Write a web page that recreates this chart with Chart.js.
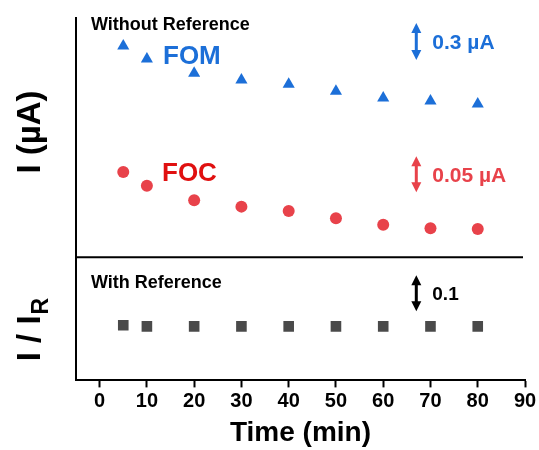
<!DOCTYPE html>
<html>
<head>
<meta charset="utf-8">
<script src="https://cdn.jsdelivr.net/npm/chart.js@4"></script>
<style>
  body { margin: 0; background: #fff; }
</style>
</head>
<body>
<canvas id="chart" width="539" height="450"></canvas>
<script>
// time points (min)
const time = [5, 10, 20, 30, 40, 50, 60, 70, 80];
// current without reference (uA), estimated from the figure
const fom = [2.47, 2.365, 2.25, 2.195, 2.16, 2.105, 2.05, 2.025, 2.00];
const foc = [0.479, 0.460, 0.440, 0.431, 0.425, 0.415, 0.406, 0.401, 0.400];
// ratio with reference
const ref = [1.003, 1.000, 1.000, 1.000, 1.000, 1.000, 1.000, 1.000, 1.000];
const xTicks = [0, 10, 20, 30, 40, 50, 60, 70, 80, 90];

const BLUE = '#1c6fd8';
const RED = '#e8424a';
const GRAY = '#4a4a4a';
const FONT = '"Liberation Sans", Arial, sans-serif';

function pts(ys) {
  return time.map((t, i) => ({ x: t, y: ys[i] }));
}

// vertical double arrow for the scale bars
function dblArrow(ctx, x, y1, y2, color) {
  ctx.save();
  ctx.strokeStyle = color;
  ctx.fillStyle = color;
  ctx.lineWidth = 3;
  ctx.beginPath();
  ctx.moveTo(x, y1 + 6);
  ctx.lineTo(x, y2 - 6);
  ctx.stroke();
  ctx.beginPath();
  ctx.moveTo(x, y1); ctx.lineTo(x - 5, y1 + 10); ctx.lineTo(x + 5, y1 + 10);
  ctx.closePath(); ctx.fill();
  ctx.beginPath();
  ctx.moveTo(x, y2); ctx.lineTo(x - 5, y2 - 10); ctx.lineTo(x + 5, y2 - 10);
  ctx.closePath(); ctx.fill();
  ctx.restore();
}

const decor = {
  id: 'decor',
  beforeDatasetsDraw(chart) {
    const ctx = chart.ctx;
    const a = chart.chartArea;
    ctx.save();
    ctx.strokeStyle = '#000';
    ctx.lineWidth = 2;
    // left axis line
    ctx.beginPath();
    ctx.moveTo(a.left, a.top);
    ctx.lineTo(a.left, a.bottom);
    ctx.stroke();
    // divider between the two panels
    const yDiv = a.top + (a.bottom - a.top) * 0.661;
    ctx.beginPath();
    ctx.moveTo(a.left, yDiv);
    ctx.lineTo(a.right - 2, yDiv);
    ctx.stroke();
    ctx.restore();
  },
  afterDraw(chart) {
    const ctx = chart.ctx;
    const s = chart.scales;
    ctx.save();
    ctx.textBaseline = 'alphabetic';
    ctx.textAlign = 'left';

    ctx.fillStyle = '#000';
    ctx.font = 'bold 18px ' + FONT;
    ctx.fillText('Without Reference', 91, 29.5);
    ctx.fillText('With Reference', 91, 288);

    ctx.font = 'bold 26px ' + FONT;
    ctx.fillStyle = BLUE;
    ctx.fillText('FOM', 163, 63.5);
    ctx.fillStyle = '#e01010';
    ctx.fillText('FOC', 162, 180.5);

    // scale bars
    const xa = s.x.getPixelForValue(67);
    const b1 = s.yFOM.getPixelForValue(2.656), b2 = s.yFOM.getPixelForValue(2.356);
    dblArrow(ctx, xa, b1, b2, BLUE);
    const c1 = s.yFOC.getPixelForValue(0.501), c2 = s.yFOC.getPixelForValue(0.451);
    dblArrow(ctx, xa, c1, c2, RED);
    const d1 = s.yRef.getPixelForValue(1.142), d2 = s.yRef.getPixelForValue(1.042);
    dblArrow(ctx, xa, d1, d2, '#000');

    ctx.font = 'bold 21px ' + FONT;
    ctx.fillStyle = BLUE;
    ctx.fillText('0.3 \u00b5A', xa + 16, (b1 + b2) / 2 + 7.5);
    ctx.fillStyle = RED;
    ctx.fillText('0.05 \u00b5A', xa + 16, (c1 + c2) / 2 + 7.5);
    ctx.fillStyle = '#000';
    ctx.font = 'bold 19px ' + FONT;
    ctx.fillText('0.1', xa + 16, (d1 + d2) / 2 + 7);

    // y titles, rotated
    ctx.fillStyle = '#000';
    ctx.save();
    ctx.translate(40, 132);
    ctx.rotate(-Math.PI / 2);
    ctx.textAlign = 'center';
    ctx.font = 'bold 33px ' + FONT;
    ctx.fillText('I (\u00b5A)', 0, 0);
    ctx.restore();

    ctx.save();
    ctx.translate(40, 330);
    ctx.rotate(-Math.PI / 2);
    ctx.font = 'bold 33px ' + FONT;
    const main = 'I / I';
    const w1 = ctx.measureText(main).width;
    ctx.font = 'bold 23px ' + FONT;
    const w2 = ctx.measureText('R').width;
    const x0 = -(w1 + w2) / 2;
    ctx.font = 'bold 33px ' + FONT;
    ctx.fillText(main, x0, 0);
    ctx.font = 'bold 23px ' + FONT;
    ctx.fillText('R', x0 + w1 + 1, 8);
    ctx.restore();

    ctx.restore();
  }
};

new Chart(document.getElementById('chart'), {
  type: 'scatter',
  data: {
    datasets: [
      {
        label: 'FOM',
        data: pts(fom),
        yAxisID: 'yFOM',
        pointStyle: 'triangle',
        pointRadius: 7,
        backgroundColor: BLUE,
        borderColor: BLUE,
        borderWidth: 0
      },
      {
        label: 'FOC',
        data: pts(foc),
        yAxisID: 'yFOC',
        pointStyle: 'circle',
        pointRadius: 6,
        backgroundColor: RED,
        borderColor: RED,
        borderWidth: 0
      },
      {
        label: 'Ref',
        data: pts(ref),
        yAxisID: 'yRef',
        pointStyle: 'rect',
        pointRadius: 7.5,
        backgroundColor: GRAY,
        borderColor: GRAY,
        borderWidth: 0
      }
    ]
  },
  options: {
    responsive: false,
    animation: false,
    layout: { padding: { left: 76, right: 14, top: 17, bottom: 0 } },
    plugins: { legend: { display: false }, tooltip: { enabled: false } },
    scales: {
      x: {
        type: 'linear',
        min: -5,
        max: 90,
        afterBuildTicks: (sc) => { sc.ticks = xTicks.map(v => ({ value: v })); },
        ticks: {
          color: '#000',
          font: { family: FONT, size: 20, weight: 'bold' },
          padding: 2,
          maxRotation: 0
        },
        grid: {
          drawOnChartArea: false,
          drawTicks: true,
          tickLength: 7,
          tickWidth: 2,
          tickColor: '#000'
        },
        border: { display: true, color: '#000', width: 2 },
        title: {
          display: true,
          text: 'Time (min)',
          color: '#000',
          font: { family: FONT, size: 28, weight: 'bold' },
          padding: { top: 1, bottom: 0 }
        }
      },
      yFOM: { type: 'linear', display: false, min: -0.236, max: 2.705 },
      yFOC: { type: 'linear', display: false, min: 0.190, max: 0.694 },
      yRef: { type: 'linear', display: false, min: 0.850, max: 1.858 }
    }
  },
  plugins: [decor]
});
</script>
</body>
</html>
